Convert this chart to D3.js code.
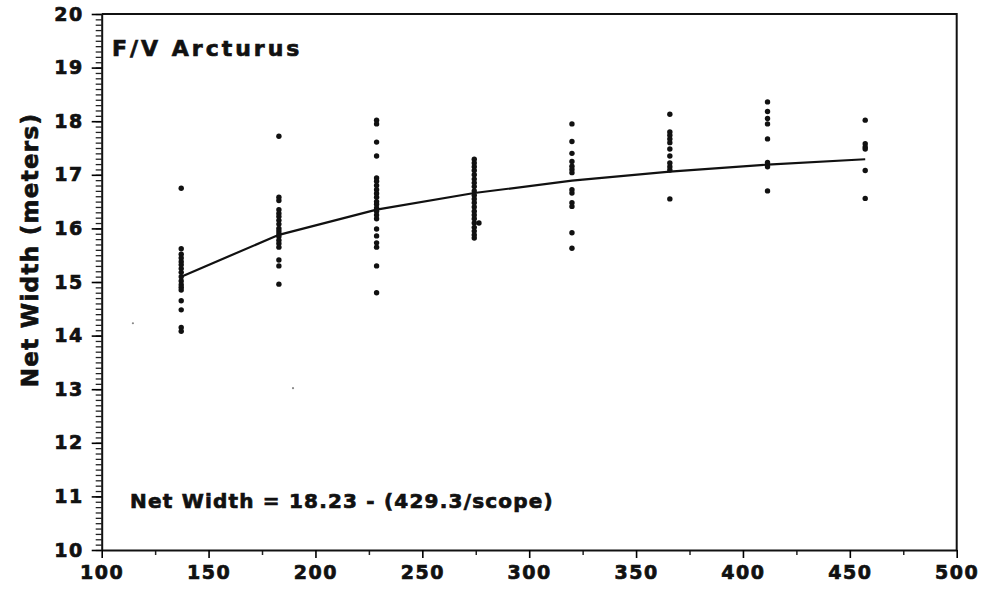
<!DOCTYPE html>
<html>
<head>
<meta charset="utf-8">
<script src="https://cdn.jsdelivr.net/npm/d3@7"></script>
<style>
  body { margin: 0; background: #fff; }
  text { font-family: "DejaVu Sans", "Liberation Sans", Arial, sans-serif; font-weight: bold; fill: #111; stroke: #111; stroke-width: 0.7px; }
</style>
</head>
<body>
<div id="chart"></div>
<script>
// scope (m) of each tow group
let scopes = [137.2, 182.9, 228.6, 274.3, 320.0, 365.8, 411.5, 457.2];

// net width readings for each scope group
let widths = [
    [16.75, 15.62, 15.52, 15.45, 15.38, 15.32, 15.25, 15.18, 15.1, 15.02, 14.95, 14.9, 14.85, 14.65, 14.48, 14.15, 14.08],
    [17.72, 16.58, 16.52, 16.35, 16.28, 16.22, 16.15, 16.08, 16.0, 15.95, 15.9, 15.85, 15.78, 15.72, 15.65, 15.41, 15.3, 14.96],
    [18.02, 17.95, 17.61, 17.35, 16.94, 16.88, 16.8, 16.72, 16.65, 16.58, 16.5, 16.45, 16.38, 16.32, 16.25, 16.18, 15.99, 15.86, 15.73, 15.65, 15.3, 14.8],
    [17.29, 17.22, 17.15, 17.08, 17.0, 16.92, 16.85, 16.78, 16.7, 16.62, 16.55, 16.48, 16.4, 16.32, 16.25, 16.18, 16.1, 16.02, 15.95, 15.88, 15.82],
    [17.95, 17.62, 17.4, 17.25, 17.16, 17.1, 17.04, 16.72, 16.66, 16.48, 16.41, 15.92, 15.63],
    [18.13, 17.8, 17.74, 17.67, 17.6, 17.48, 17.35, 17.22, 17.15, 17.09, 16.55],
    [18.36, 18.18, 18.05, 17.95, 17.67, 17.23, 17.15, 16.7],
    [18.02, 17.58, 17.52, 17.48, 17.08, 16.56]
];

// odd marks that do not sit on a scope column
let extraX = [276.5];
let extraY = [16.1];
let faintX = [114.6, 189.5];
let faintY = [14.23, 13.02];

// fitted curve, read at each scope
let fitY = [15.10, 15.88, 16.35, 16.66, 16.89, 17.06, 17.19, 17.29];

let xTicks = [100, 150, 200, 250, 300, 350, 400, 450, 500];
let yTicks = [10, 11, 12, 13, 14, 15, 16, 17, 18, 19, 20];

let titleText = "F/V Arcturus";
let equationText = "Net Width = 18.23 - (429.3/scope)";
let yTitle = "Net Width (meters)";

let width = 986, height = 594;
let margin = {top: 14, right: 29.3, bottom: 44, left: 101.7};

let svg = d3.select("#chart").append("svg")
    .attr("width", width)
    .attr("height", height);

let x = d3.scaleLinear().domain([100, 500]).range([margin.left, width - margin.right]);
let y = d3.scaleLinear().domain([10, 20]).range([height - margin.bottom, margin.top]);

// frame (top and right edges)
svg.append("path")
    .attr("d", "M" + x(100) + "," + y(20) + "H" + x(500) + "V" + y(10))
    .attr("fill", "none")
    .attr("stroke", "#111")
    .attr("stroke-width", 2);

// minor ticks
let yMinor = d3.range(100, 201).map(d => d / 10);
svg.append("g")
    .attr("transform", "translate(" + margin.left + ",0)")
    .call(d3.axisLeft(y).tickValues(yMinor).tickSize(6).tickFormat(""))
    .call(g => g.select(".domain").remove())
    .selectAll("line").attr("stroke", "#222").attr("stroke-width", 1.3);

let xMinor = d3.range(125, 500, 50);
svg.append("g")
    .attr("transform", "translate(0," + y(10) + ")")
    .call(d3.axisBottom(x).tickValues(xMinor).tickSize(5).tickFormat(""))
    .call(g => g.select(".domain").remove())
    .selectAll("line").attr("stroke", "#222").attr("stroke-width", 1.5);

// main axes
let yAxis = svg.append("g")
    .attr("transform", "translate(" + margin.left + ",0)")
    .call(d3.axisLeft(y).tickValues(yTicks).tickSize(10).tickPadding(8).tickSizeOuter(0));
yAxis.selectAll("text")
    .style("font-size", "19px")
    .style("letter-spacing", "1.5px");

let xAxis = svg.append("g")
    .attr("transform", "translate(0," + y(10) + ")")
    .call(d3.axisBottom(x).tickValues(xTicks).tickSize(8).tickPadding(8).tickSizeOuter(0));
xAxis.selectAll("text")
    .style("font-size", "19px")
    .style("letter-spacing", "1.5px");

svg.selectAll(".domain").attr("stroke", "#111").attr("stroke-width", 2);
yAxis.selectAll(".tick line").attr("stroke-width", 1.6);
xAxis.selectAll(".tick line").attr("stroke-width", 1.6);
svg.selectAll(".tick text").attr("fill", "#111");

// fitted curve
let line = d3.line()
    .x((d, i) => x(scopes[i]))
    .y(d => y(d));

svg.append("path")
    .datum(fitY)
    .attr("d", line)
    .attr("fill", "none")
    .attr("stroke", "#111")
    .attr("stroke-width", 2.2);

// points
let points = [];
scopes.forEach((s, i) => {
    widths[i].forEach(w => points.push([s, w]));
});
extraX.forEach((s, i) => points.push([s, extraY[i]]));

svg.append("g").selectAll("circle")
    .data(points)
    .join("circle")
    .attr("cx", d => x(d[0]))
    .attr("cy", d => y(d[1]))
    .attr("r", 2.7)
    .attr("fill", "#111");

svg.append("g").selectAll("circle")
    .data(faintX)
    .join("circle")
    .attr("cx", d => x(d))
    .attr("cy", (d, i) => y(faintY[i]))
    .attr("r", 1.1)
    .attr("fill", "#888");

// labels
svg.append("text")
    .attr("x", 112)
    .attr("y", 56)
    .style("font-size", "22px")
    .style("letter-spacing", "3px")
    .text(titleText);

svg.append("text")
    .attr("x", 130)
    .attr("y", 508)
    .style("font-size", "20px")
    .style("letter-spacing", "1.2px")
    .text(equationText);

svg.append("text")
    .attr("transform", "translate(38,250) rotate(-90)")
    .attr("text-anchor", "middle")
    .style("font-size", "23px")
    .style("letter-spacing", "1.3px")
    .text(yTitle);
</script>
</body>
</html>
